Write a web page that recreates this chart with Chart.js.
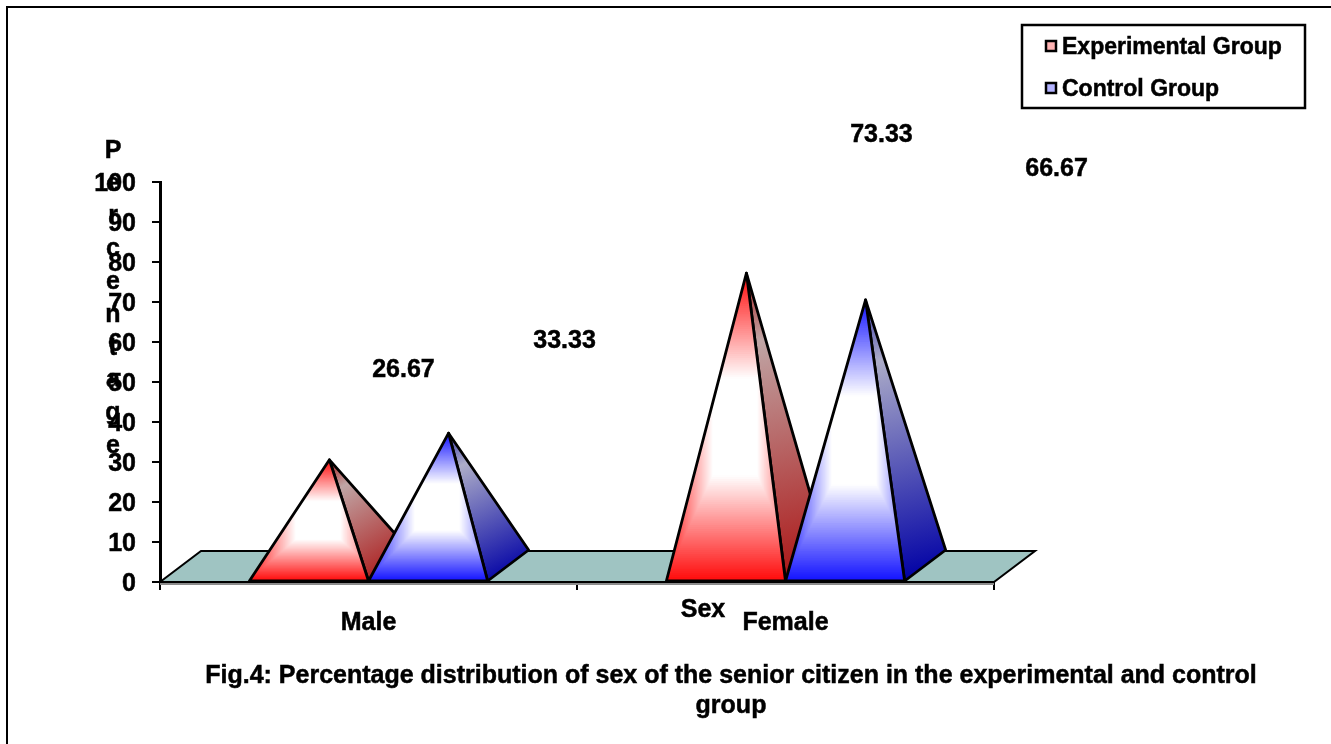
<!DOCTYPE html>
<html>
<head>
<meta charset="utf-8">
<title>Sex distribution</title>
<script src="https://cdn.jsdelivr.net/npm/chart.js@4"></script>
<style>
  html, body { margin: 0; padding: 0; background: #fff; }
  #wrap { position: relative; width: 1331px; height: 744px; }
</style>
</head>
<body>
<div id="wrap"><canvas id="chart" width="1331" height="744"></canvas></div>
<script>
const categories = ["Male", "Female"];
const experimental = [26.67, 73.33];
const control = [33.33, 66.67];
const seriesNames = ["Experimental Group", "Control Group"];
const yTicks = [0, 10, 20, 30, 40, 50, 60, 70, 80, 90, 100];
const yTitle = ["P", "e", "r", "c", "e", "n", "t", "a", "g", "e"];
const xTitle = "Sex";
const caption = [
  "Fig.4: Percentage distribution of sex of the senior citizen in the experimental and control",
  "group"
];

const FONT = '"Liberation Sans", Arial, sans-serif';
const DEPTH_X = 41, DEPTH_Y = 31; // floor offset of the fake 3D view

// value labels are dragged away from their pyramids, offsets from each apex [dataset][category]
const LABEL_SHIFT = [
  [[74, -90], [135, -138]],
  [[116, -92], [191, -131]]
];

const palette = [
  { edge: [255, 12, 12], side: [[170, 30, 30], [192, 165, 165], [172, 22, 22]], swatch: "#ffb3b3" },
  { edge: [20, 20, 255], side: [[55, 55, 170], [172, 172, 200], [0, 0, 165]], swatch: "#b3b3ff" }
];

function rgb(c) { return `rgb(${c[0]},${c[1]},${c[2]})`; }

// heavier bold, the plain face looks thin at this size
function label(ctx, text, x, y) {
  ctx.fillText(text, x, y);
  ctx.strokeText(text, x, y);
}

// front face: concentric rectangles, saturated at the box edge and white in the middle
function fillFront(ctx, left, right, top, bottom, color) {
  const cx = (left + right) / 2 + 9, cy = (top + bottom) / 2;
  const hw = (right - left) / 2 + 11, hh = (bottom - top) / 2;
  const whiteAt = 0.32, steps = 80;
  ctx.fillStyle = rgb(color);
  ctx.fillRect(left - 2, top - 2, right - left + 4, bottom - top + 4);
  for (let i = 0; i < steps; i++) {
    const k = 1 - i / steps;
    const t = Math.max(0, (k - whiteAt) / (1 - whiteAt));
    const c = color.map(v => Math.round(255 + (v - 255) * t));
    ctx.fillStyle = rgb(c);
    ctx.fillRect(cx - hw * k, cy - hh * k, hw * k * 2, hh * k * 2);
  }
}

const pyramids = {
  id: "pyramids",
  beforeDatasetsDraw(chart) {
    const { ctx, chartArea: a } = chart;
    ctx.save();
    ctx.beginPath();
    ctx.moveTo(a.left, a.bottom);
    ctx.lineTo(a.left + DEPTH_X, a.bottom - DEPTH_Y);
    ctx.lineTo(a.right + DEPTH_X, a.bottom - DEPTH_Y);
    ctx.lineTo(a.right, a.bottom);
    ctx.closePath();
    ctx.fillStyle = "#9fc4c2";
    ctx.fill();
    ctx.strokeStyle = "#000";
    ctx.lineWidth = 2;
    ctx.stroke();
    // thin shadow under the front edge
    ctx.strokeStyle = "#8c8c8c";
    ctx.beginPath();
    ctx.moveTo(a.left, a.bottom + 2);
    ctx.lineTo(a.right, a.bottom + 2);
    ctx.stroke();
    ctx.restore();
  },
  afterDatasetsDraw(chart) {
    const { ctx } = chart;
    ctx.save();
    ctx.lineJoin = "round";
    [0, 1].forEach(group => {
      chart.data.datasets.forEach((ds, d) => {
        const bar = chart.getDatasetMeta(d).data[group];
        const left = bar.x - bar.width / 2, right = bar.x + bar.width / 2;
        const base = bar.base;
        const apexX = bar.x + DEPTH_X / 2, apexY = bar.y - DEPTH_Y / 2;
        const col = palette[d];

        // right hand side face
        const grad = ctx.createLinearGradient(apexX, apexY, right + DEPTH_X * 0.7, base - DEPTH_Y * 0.2);
        grad.addColorStop(0, rgb(col.side[0]));
        grad.addColorStop(0.22, rgb(col.side[1]));
        grad.addColorStop(1, rgb(col.side[2]));
        ctx.beginPath();
        ctx.moveTo(apexX, apexY);
        ctx.lineTo(right, base);
        ctx.lineTo(right + DEPTH_X, base - DEPTH_Y);
        ctx.closePath();
        ctx.fillStyle = grad;
        ctx.fill();
        ctx.strokeStyle = "#000";
        ctx.lineWidth = 2.8;
        ctx.stroke();

        // front face
        ctx.save();
        ctx.beginPath();
        ctx.moveTo(apexX, apexY);
        ctx.lineTo(left, base);
        ctx.lineTo(right, base);
        ctx.closePath();
        ctx.clip();
        fillFront(ctx, left, right, apexY, base, col.edge);
        ctx.restore();
        ctx.beginPath();
        ctx.moveTo(apexX, apexY);
        ctx.lineTo(left, base);
        ctx.lineTo(right, base);
        ctx.closePath();
        ctx.stroke();
      });
    });
    ctx.restore();
  },
  afterDraw(chart) {
    const { ctx } = chart;
    ctx.save();

    // page frame, runs off the right and bottom
    ctx.strokeStyle = "#000";
    ctx.lineWidth = 2;
    ctx.strokeRect(7, 7, 1400, 800);

    // legend box
    ctx.lineWidth = 2.5;
    ctx.strokeRect(1022, 25, 283, 83);
    ctx.textBaseline = "middle";
    ctx.textAlign = "left";
    ctx.font = "bold 23px " + FONT;
    seriesNames.forEach((name, i) => {
      const y = 46 + i * 42;
      ctx.lineWidth = 2.5;
      ctx.fillStyle = palette[i].swatch;
      ctx.fillRect(1046, y - 5, 10, 10);
      ctx.strokeRect(1046, y - 5, 10, 10);
      ctx.fillStyle = "#000";
      ctx.lineWidth = 0.5;
      label(ctx, name, 1062, y + 2);
    });

    ctx.font = "bold 25px " + FONT;
    ctx.textAlign = "center";
    chart.data.datasets.forEach((ds, d) => {
      chart.getDatasetMeta(d).data.forEach((bar, i) => {
        const [dx, dy] = LABEL_SHIFT[d][i];
        label(ctx, ds.data[i].toFixed(2), bar.x + DEPTH_X / 2 + dx, bar.y - DEPTH_Y / 2 + dy);
      });
    });

    // stacked axis title
    yTitle.forEach((ch, i) => {
      label(ctx, ch, 113, 151 + i * 32.8);
    });
    label(ctx, xTitle, 703, 610);

    caption.forEach((line, i) => label(ctx, line, 731, 676 + i * 30));
    ctx.restore();
  }
};

new Chart(document.getElementById("chart"), {
  type: "bar",
  data: {
    labels: categories,
    datasets: [
      { label: seriesNames[0], data: experimental, backgroundColor: "transparent" },
      { label: seriesNames[1], data: control, backgroundColor: "transparent" }
    ]
  },
  options: {
    responsive: false,
    animation: false,
    events: [],
    layout: { padding: { left: 0, right: 337, top: 182, bottom: 0 } },
    plugins: { legend: { display: false }, title: { display: false }, tooltip: { enabled: false } },
    datasets: { bar: { barPercentage: 1, categoryPercentage: 0.5714 } },
    scales: {
      x: {
        afterFit(scale) { scale.height = 162; },
        grid: { drawOnChartArea: false, offset: true, color: "#000", tickLength: 8, lineWidth: 2 },
        border: { color: "#000", width: 2 },
        ticks: { color: "#000", padding: 18, maxRotation: 0, textStrokeColor: "#000", textStrokeWidth: 0.5, font: { family: FONT, size: 25, weight: "bold" } }
      },
      y: {
        min: 0,
        max: 100,
        afterFit(scale) { scale.width = 160; },
        afterBuildTicks(scale) { scale.ticks = yTicks.map(value => ({ value })); },
        grid: { drawOnChartArea: false, color: "#000", tickLength: 8, lineWidth: 2 },
        border: { color: "#000", width: 3 },
        ticks: { color: "#000", padding: 16, labelOffset: 2, textStrokeColor: "#000", textStrokeWidth: 0.5, font: { family: FONT, size: 25, weight: "bold" } }
      }
    }
  },
  plugins: [pyramids]
});
</script>
</body>
</html>
